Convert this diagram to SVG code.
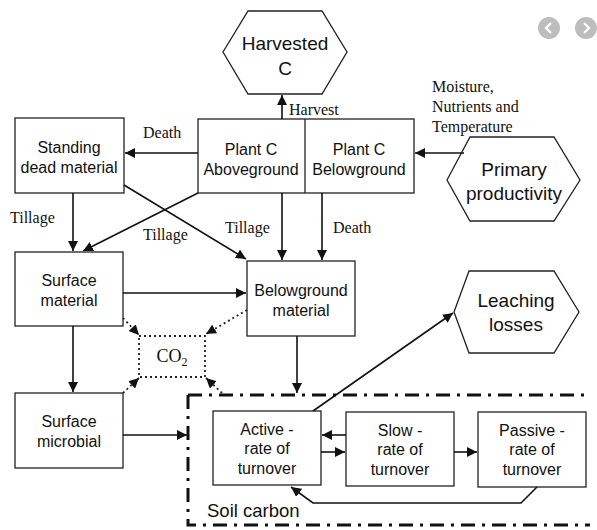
<svg xmlns="http://www.w3.org/2000/svg" width="597" height="530" viewBox="0 0 597 530">
<defs>
<marker id="ah" viewBox="0 0 10 10" refX="10" refY="5" markerWidth="10" markerHeight="10" markerUnits="userSpaceOnUse" orient="auto">
<path d="M0,0 L10,5 L0,10 z" fill="#111"/>
</marker>
</defs>
<style>
.box{fill:#fff;stroke:#222;stroke-width:1.3}
.n{font-family:"Liberation Sans",Arial,sans-serif;font-size:16px;fill:#111;text-anchor:middle}
.big{font-size:19px}
.lbl{font-family:"Liberation Sans",Arial,sans-serif;font-size:18.5px;fill:#111}
.e{font-family:"Liberation Serif","Times New Roman",serif;font-size:16px;fill:#111}
.co{font-family:"Liberation Serif","Times New Roman",serif;font-size:18px;fill:#111;text-anchor:middle}
.c{fill:none;stroke:#111;stroke-width:1.6}
.d{fill:none;stroke:#222;stroke-width:1.8;stroke-dasharray:2 3}
.sc{fill:none;stroke:#111;stroke-width:3;stroke-dasharray:14 7 3 7}
</style>
<rect width="597" height="530" fill="#fff"/>

<g id="nav">
<circle cx="549" cy="28" r="11" fill="#bdbdbd"/>
<path d="M551,23 L546,28 L551,33" fill="none" stroke="#fff" stroke-width="2.2"/>
<circle cx="586" cy="28" r="11" fill="#bdbdbd"/>
<path d="M584,23 L589,28 L584,33" fill="none" stroke="#fff" stroke-width="2.2"/>
</g>

<g id="harvested">
<polygon class="box" points="223,52 248,11 322,11 347,52 322,94 248,94"/>
<text class="n big" x="285" y="50">Harvested</text>
<text class="n big" x="285" y="75">C</text>
</g>

<g id="plant">
<rect class="box" x="198" y="119" width="216" height="74"/>
<line x1="305" y1="119" x2="305" y2="193" stroke="#222" stroke-width="1.3"/>
<text class="n" x="251" y="155">Plant C</text>
<text class="n" x="251" y="175">Aboveground</text>
<text class="n" x="359" y="155">Plant C</text>
<text class="n" x="359" y="175">Belowground</text>
</g>

<g id="standing">
<rect class="box" x="15" y="118" width="109" height="75"/>
<text class="n" x="69" y="153">Standing</text>
<text class="n" x="69" y="173">dead material</text>
</g>

<g id="primary">
<polygon class="box" points="447,180 470,137 554,137 580,180 554,221 470,221"/>
<text class="n big" x="514" y="176">Primary</text>
<text class="n big" x="514" y="200">productivity</text>
</g>

<g id="surface-material">
<rect class="box" x="15" y="252" width="108" height="74"/>
<text class="n" x="69" y="286">Surface</text>
<text class="n" x="69" y="306">material</text>
</g>

<g id="belowground-material">
<rect class="box" x="247" y="261" width="108" height="75"/>
<text class="n" x="301" y="296">Belowground</text>
<text class="n" x="301" y="316">material</text>
</g>

<g id="co2">
<rect class="d" x="139" y="336" width="66" height="41"/>
<text class="co" x="172" y="362">CO<tspan font-size="12" dy="4">2</tspan></text>
</g>

<g id="surface-microbial">
<rect class="box" x="15" y="393" width="108" height="75"/>
<text class="n" x="69" y="427">Surface</text>
<text class="n" x="69" y="447">microbial</text>
</g>

<g id="leaching">
<polygon class="box" points="454,312 469,271 554,271 579,312 554,353 469,353"/>
<text class="n big" x="516" y="307">Leaching</text>
<text class="n big" x="516" y="331">losses</text>
</g>

<g id="soil-carbon">
<path class="sc" d="M188,395 L590,395 M188,395 L188,525 L590,525"/>
<text class="lbl" x="207" y="517">Soil carbon</text>
</g>

<g id="active">
<rect class="box" x="213" y="411" width="108" height="74"/>
<text class="n" x="267" y="435">Active -</text>
<text class="n" x="267" y="454">rate of</text>
<text class="n" x="267" y="474">turnover</text>
</g>

<g id="slow">
<rect class="box" x="346" y="412" width="108" height="74"/>
<text class="n" x="400" y="436">Slow -</text>
<text class="n" x="400" y="455">rate of</text>
<text class="n" x="400" y="475">turnover</text>
</g>

<g id="passive">
<rect class="box" x="478" y="412" width="108" height="75"/>
<text class="n" x="532" y="436">Passive -</text>
<text class="n" x="532" y="455">rate of</text>
<text class="n" x="532" y="475">turnover</text>
</g>

<g id="connectors">
<line class="c" x1="282" y1="119" x2="282" y2="95" marker-end="url(#ah)"/>
<text class="e" x="289" y="115">Harvest</text>
<line class="c" x1="198" y1="153" x2="125" y2="153" marker-end="url(#ah)"/>
<text class="e" x="143" y="138">Death</text>
<line class="c" x1="464" y1="153" x2="415" y2="153" marker-end="url(#ah)"/>
<text class="e" x="432" y="92">Moisture,</text>
<text class="e" x="432" y="112">Nutrients and</text>
<text class="e" x="432" y="132">Temperature</text>
<line class="c" x1="73" y1="193" x2="73" y2="251" marker-end="url(#ah)"/>
<text class="e" x="10" y="223">Tillage</text>
<line class="c" x1="198" y1="193" x2="83" y2="251" marker-end="url(#ah)"/>
<text class="e" x="143" y="240">Tillage</text>
<line class="c" x1="124" y1="185" x2="246" y2="259" marker-end="url(#ah)"/>
<line class="c" x1="282" y1="193" x2="282" y2="260" marker-end="url(#ah)"/>
<text class="e" x="225" y="233">Tillage</text>
<line class="c" x1="322" y1="193" x2="322" y2="260" marker-end="url(#ah)"/>
<text class="e" x="333" y="233">Death</text>
<line class="c" x1="123" y1="293" x2="246" y2="293" marker-end="url(#ah)"/>
<line class="c" x1="73" y1="326" x2="73" y2="392" marker-end="url(#ah)"/>
<line class="c" x1="297" y1="336" x2="297" y2="393" marker-end="url(#ah)"/>
<line class="c" x1="123" y1="435" x2="187" y2="435" marker-end="url(#ah)"/>
<line class="d" x1="123" y1="318" x2="139" y2="335" marker-end="url(#ah)"/>
<line class="d" x1="247" y1="310" x2="206" y2="334" marker-end="url(#ah)"/>
<line class="d" x1="123" y1="393" x2="139" y2="378" marker-end="url(#ah)"/>
<line class="d" x1="222" y1="393" x2="206" y2="378" marker-end="url(#ah)"/>
<line class="c" x1="313" y1="411" x2="453" y2="313" marker-end="url(#ah)"/>
<line class="c" x1="346" y1="435" x2="322" y2="435" marker-end="url(#ah)"/>
<line class="c" x1="321" y1="452" x2="345" y2="452" marker-end="url(#ah)"/>
<line class="c" x1="454" y1="452" x2="477" y2="452" marker-end="url(#ah)"/>
<polyline class="c" points="537,487 521,503 313,503 291,487" marker-end="url(#ah)"/>
</g>
</svg>
